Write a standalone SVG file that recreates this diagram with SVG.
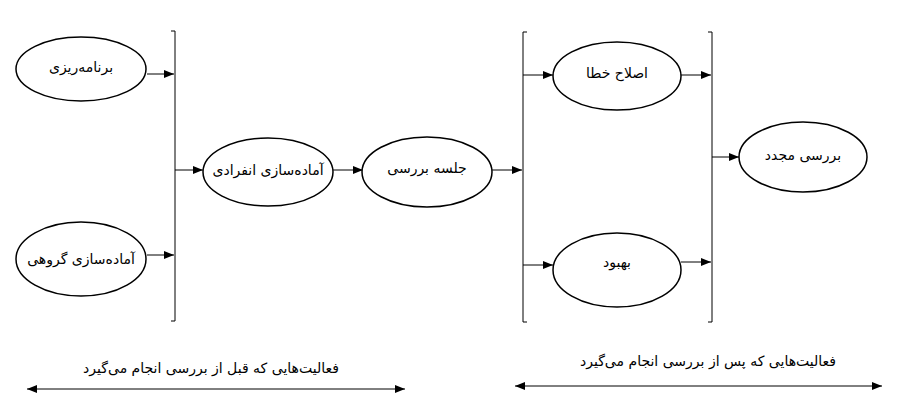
<svg xmlns="http://www.w3.org/2000/svg" width="902" height="406" viewBox="0 0 902 406">
<style>
.n ellipse{fill:#fff;stroke:#000;stroke-width:1.5}
.t{font-family:"DejaVu Sans","Noto Sans",sans-serif;font-size:14px;fill:#000;text-anchor:middle;dominant-baseline:central}
.c line,.c path{stroke:#000;stroke-width:1;fill:none}
</style>
<defs>
<marker id="ah" markerUnits="userSpaceOnUse" markerWidth="10" markerHeight="8" refX="10" refY="4" orient="auto">
<path d="M0,0 L10,4 L0,8 Z" fill="#000"/>
</marker>
<marker id="as" markerUnits="userSpaceOnUse" markerWidth="10" markerHeight="8" refX="0" refY="4" orient="auto">
<path d="M10,0 L0,4 L10,8 Z" fill="#000"/>
</marker>
</defs>
<rect width="902" height="406" fill="#fff"/>
<g class="c" id="connectors">
<path d="M171,31 H175 V321 H171"/>
<path d="M527,32 H523 V322 H527"/>
<path d="M708,32 H712 V322 H708"/>
<line x1="147" y1="74" x2="174" y2="74" marker-end="url(#ah)"/>
<line x1="147" y1="255" x2="174" y2="255" marker-end="url(#ah)"/>
<line x1="175" y1="170" x2="203" y2="170" marker-end="url(#ah)"/>
<line x1="333" y1="170" x2="363" y2="170" marker-end="url(#ah)"/>
<line x1="492" y1="170" x2="522" y2="170" marker-end="url(#ah)"/>
<line x1="523" y1="75" x2="553" y2="75" marker-end="url(#ah)"/>
<line x1="523" y1="265" x2="553" y2="265" marker-end="url(#ah)"/>
<line x1="681" y1="75" x2="711" y2="75" marker-end="url(#ah)"/>
<line x1="681" y1="262" x2="711" y2="262" marker-end="url(#ah)"/>
<line x1="712" y1="157" x2="739" y2="157" marker-end="url(#ah)"/>
<line x1="27" y1="389" x2="405" y2="389" marker-start="url(#as)" marker-end="url(#ah)"/>
<line x1="515" y1="386" x2="882" y2="386" marker-start="url(#as)" marker-end="url(#ah)"/>
</g>
<g class="n" id="n-planning"><ellipse cx="81" cy="69" rx="65" ry="32"/><text class="t" x="81" y="67">برنامه&#8204;ریزی</text></g>
<g class="n" id="n-group-prep"><ellipse cx="81" cy="259" rx="65" ry="37"/><text class="t" x="81" y="259">آماده&#8204;سازی گروهی</text></g>
<g class="n" id="n-indiv-prep"><ellipse cx="268" cy="172" rx="65" ry="34"/><text class="t" x="268" y="170">آماده&#8204;سازی انفرادی</text></g>
<g class="n" id="n-meeting"><ellipse cx="427" cy="172" rx="65" ry="35"/><text class="t" x="427" y="168">جلسه بررسی</text></g>
<g class="n" id="n-fix"><ellipse cx="617" cy="76" rx="64" ry="34"/><text class="t" x="617" y="73">اصلاح خطا</text></g>
<g class="n" id="n-improve"><ellipse cx="617" cy="270" rx="64" ry="37"/><text class="t" x="617" y="262">بهبود</text></g>
<g class="n" id="n-rereview"><ellipse cx="803" cy="157" rx="64" ry="35"/><text class="t" x="803" y="155">بررسی مجدد</text></g>
<g id="labels">
<text class="t" x="211" y="368">فعالیت&#8204;هایی که قبل از بررسی انجام می&#8204;گیرد</text>
<text class="t" x="708" y="361">فعالیت&#8204;هایی که پس از بررسی انجام می&#8204;گیرد</text>
</g>
</svg>
